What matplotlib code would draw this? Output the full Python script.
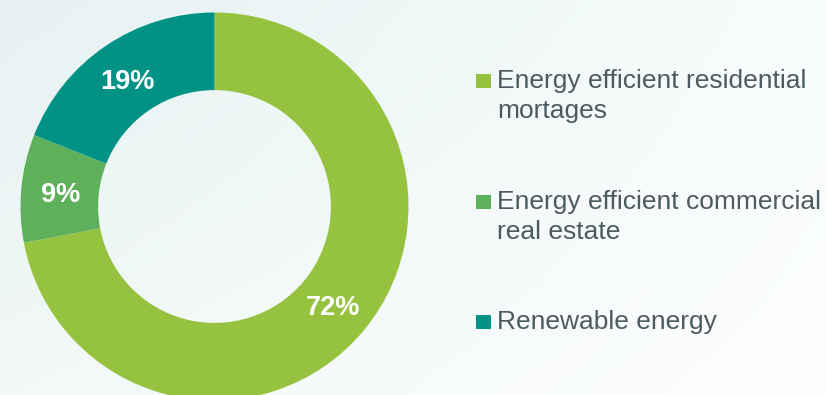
import numpy as np
import matplotlib
matplotlib.use("Agg")
import matplotlib.pyplot as plt

categories = ["Energy efficient residential\nmortages",
              "Energy efficient commercial\nreal estate",
              "Renewable energy"]
values = [72, 9, 19]
colors = ["#95C33F", "#5FB05A", "#009284"]

W, H = 827, 395
fig = plt.figure(figsize=(W / 100, H / 100), dpi=100)

# background gradient
bg = fig.add_axes([0, 0, 1, 1])
bg.set_axis_off()
xs = np.linspace(0, 1, 200)
ys = np.linspace(0, 1, 100)
X, Y = np.meshgrid(xs, ys)
c_tl = np.array([230, 242, 242]) / 255
c_tr = np.array([248, 252, 252]) / 255
c_bl = np.array([243, 248, 248]) / 255
c_br = np.array([253, 254, 254]) / 255
img = (c_tl[None, None, :] * ((1 - X) * (1 - Y))[..., None]
       + c_tr[None, None, :] * (X * (1 - Y))[..., None]
       + c_bl[None, None, :] * ((1 - X) * Y)[..., None]
       + c_br[None, None, :] * (X * Y)[..., None])
bg.imshow(img, extent=[0, 1, 0, 1], aspect="auto", origin="upper")
bg.set_xlim(0, 1)
bg.set_ylim(0, 1)

ax = fig.add_axes([0, 0, 1, 1])
ax.set_axis_off()
ax.patch.set_alpha(0)
ax.set_xlim(0, W)
ax.set_ylim(0, H)
ax.set_aspect("equal")

cx, cy, R = 214.5, H - 206.5, 194
wedges, texts, autotexts = ax.pie(
    values, colors=colors, startangle=90, counterclock=False,
    center=(cx, cy), radius=R, autopct="%d%%", pctdistance=0.795,
    wedgeprops=dict(width=R * 0.40, edgecolor="none"),
    textprops=dict(color="white", fontsize=19.5, fontweight="bold",
                   family=["Liberation Sans", "DejaVu Sans"],
                   va="center_baseline"),
)
ax.set_xlim(0, W)
ax.set_ylim(0, H)

# legend
baselines = [88.3, 209.0, 329.0]
line_gap = 30
for lab, col, yb in zip(categories, colors, baselines):
    ax.add_patch(plt.Rectangle((476, H - yb), 14.5, 14.5, facecolor=col,
                               edgecolor="none"))
    for i, line in enumerate(lab.split("\n")):
        ax.text(497, H - yb - i * line_gap, line, ha="left", va="baseline",
                fontsize=19, color="#4B5B61",
                family=["Liberation Sans", "DejaVu Sans"])

fig.savefig("out.png", dpi=100)
